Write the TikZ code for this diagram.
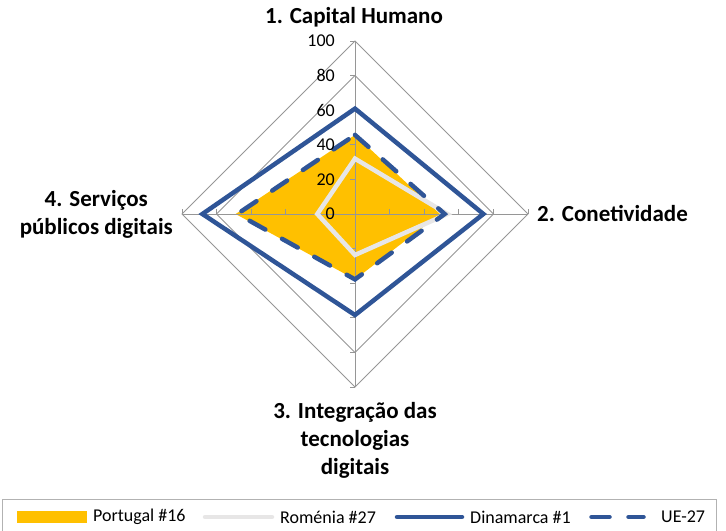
\documentclass[tikz,border=0pt]{standalone}
\usepackage{fontspec}
\setmainfont{Carlito}
\usepackage{xcolor}
\usepackage{tikz}

\definecolor{ptgold}{HTML}{FFC000}
\definecolor{dkblue}{RGB}{47,85,151}
\definecolor{rogray}{RGB}{231,230,230}
\definecolor{gridgray}{RGB}{150,150,150}

\begin{document}
\begin{tikzpicture}[x=1bp, y=-1bp,
    catlabel/.style={font=\fontsize{23bp}{28bp}\selectfont\bfseries, align=center, inner sep=0pt},
    tickno/.style={font=\fontsize{18bp}{22bp}\selectfont, anchor=east, inner sep=0pt, xshift=-20bp},
    legtext/.style={font=\fontsize{18bp}{22bp}\selectfont, anchor=west, inner sep=0pt},
    gridline/.style={draw=gridgray, line width=0.9bp},
    roline/.style={draw=rogray, line width=4.5bp},
    dkline/.style={draw=dkblue, line width=4.5bp},
    ueline/.style={draw=dkblue, line width=4.5bp, line cap=round, dash pattern=on 18bp off 19bp}]
        \useasboundingbox (0,0) rectangle (726,531);

        % radar, values in percent of the 100 ring
        \begin{scope}[shift={(355,214)}, x=1.73bp, y=1.73bp]
            \fill[ptgold] (0,45.7) -- (49.1,0) -- (0,-37.8) -- (-69,0) -- cycle;
            \foreach \r in {80,100}
                \draw[gridline] (0,\r) -- (\r,0) -- (0,-\r) -- (-\r,0) -- cycle;
            \draw[gridline] (0,-100) -- (0,100);
            \draw[gridline] (-100,0) -- (100,0);
            \foreach \v in {20,40,...,100} {
                \draw[gridline] (0,\v) -- ++(-5bp,0bp);
                \draw[gridline] (0,-\v) -- ++(-5bp,0bp);
                \draw[gridline] (\v,0) -- ++(0bp,5bp);
                \draw[gridline] (-\v,0) -- ++(0bp,5bp);
            }
            \draw[roline] (0,32) -- (53.4,0) -- (0,-23.7) -- (-21.8,0) -- cycle;
            \draw[dkline] (0,60.9) -- (74.2,0) -- (0,-58.4) -- (-88.2,0) -- cycle;
            \draw[ueline] (0,45.7) -- (51.8,0) -- (0,-37.8) -- (-68,0) -- cycle;
            \foreach \v in {0,20,...,100}
                \node[tickno] (tick\v) at (0,\v) {\v};
        \end{scope}

        \node[catlabel] (cat1) at (354,17) {1. Capital Humano};
        \node[catlabel, anchor=west] (cat2) at (537,213) {2. Conetividade};
        \node[catlabel] (cat3) at (355,440) {3. Integração das\\tecnologias\\digitais};
        \node[catlabel, anchor=east] (cat4) at (173,214) {4. Serviços\\públicos digitais};

        % legend
        \draw[gray!60, line width=1bp] (2,533) -- (2,499) -- (716,499) -- (716,533);
        \fill[ptgold] (17,511) rectangle (87,523);
        \node[legtext] (legpt) at (93,517) {Portugal \#16};
        \draw[roline, line cap=round] (205,517) -- (272,517);
        \node[legtext] (legro) at (280,517) {Roménia \#27};
        \draw[dkline, line cap=round] (397,517) -- (462,517);
        \node[legtext] (legdk) at (470,517) {Dinamarca \#1};
        \draw[ueline] (591.5,517) -- (643.5,517);
        \node[legtext] (legue) at (661,517) {UE-27};
    \end{tikzpicture}
\end{document}
